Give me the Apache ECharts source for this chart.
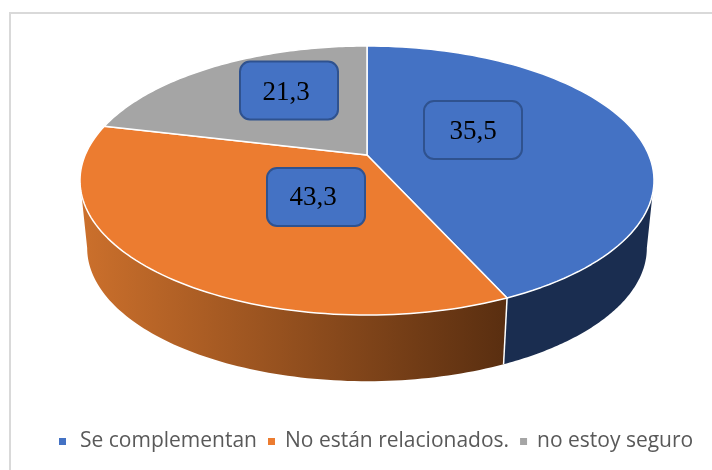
<!DOCTYPE html>
<html>
<head>
<meta charset="utf-8">
<style>html,body{margin:0;padding:0;background:#fff}#c{width:712px;height:470px}</style>
<script src="https://cdn.jsdelivr.net/npm/echarts@6/dist/echarts.min.js"></script>
</head>
<body>
<div id="c"></div>
<script>
const categories = ['Se complementan', 'No están relacionados.', 'no estoy seguro'];
const sliceValues = [43.3, 35.5, 21.3];
const shownLabels = ['35,5', '43,3', '21,3'];

const topColors = ['#4472c4', '#ec7c30', '#a5a5a5'];
const PIE = { apexX: 367, apexY: 155, R: 281.8, S: 129.7, k: 0.1896, cyTop: 180.5, cyBottom: 248, sx: 0.975, sy: 0.99 };
const LABEL_BOX = { w: 98, h: 58, r: 10 };
const LABEL_OFFSETS = [[106, -25], [-51, 42], [-78, -64.5]];
const TEXT_SHIFT = [[0, 1.5], [-3, 1], [-3, 2]];
const LEGEND_TEXT_PAD = [9, 5, 5];

const total = sliceValues.reduce((a, b) => a + b, 0);
const frontStart = Math.acos(-PIE.k), frontEnd = Math.PI * 2 - frontStart;
function project(theta) {
  const v = -Math.cos(theta), w = 1 - PIE.k * v;
  return [PIE.apexX + PIE.R * Math.sin(theta) / w, PIE.apexY + PIE.S * v / w];
}
function lower(p) {
  return [PIE.apexX + (p[0] - PIE.apexX) * PIE.sx, PIE.cyBottom + (p[1] - PIE.cyTop) * PIE.sy];
}
function sample(a, b, n) {
  const pts = [];
  for (let s = 0; s <= n; s++) pts.push(project(a + (b - a) * s / n));
  return pts;
}
function sideFill(i) {
  if (i === 0) return '#1a2d50';
  return new echarts.graphic.LinearGradient(0, 0, 1, 0, [
    { offset: 0, color: '#cc702c' }, { offset: 1, color: '#592e10' }
  ]);
}
function renderSlice(params, api) {
  const i = params.seriesIndex;
  const value = api.value(0);
  let before = 0;
  for (let j = 0; j < i; j++) before += sliceValues[j];
  const a0 = before / total * Math.PI * 2, a1 = (before + value) / total * Math.PI * 2;
  const off = LABEL_OFFSETS[i], shift = TEXT_SHIFT[i];
  const children = [];
  const s0 = Math.max(a0, frontStart), s1 = Math.min(a1, frontEnd);
  if (s1 > s0) {
    const rim = sample(s0, s1, 90), rimLow = rim.map(lower).reverse();
    children.push({ type: 'polygon', z2: 1, shape: { points: rim.concat(rimLow) }, style: { fill: sideFill(i) } });
    if (a1 < frontEnd) {
      children.push({ type: 'line', z2: 2,
        shape: { x1: rim[90][0], y1: rim[90][1], x2: rimLow[0][0], y2: rimLow[0][1] },
        style: { stroke: '#fff', lineWidth: 1.5 } });
    }
  }
  children.push(
    { type: 'polygon', z2: 3, shape: { points: [[PIE.apexX, PIE.apexY]].concat(sample(a0, a1, 90)) },
      style: { fill: topColors[i], stroke: '#fff', lineWidth: 1.5, lineJoin: 'round' } },
    { type: 'rect', z2: 5,
      shape: { x: PIE.apexX + off[0] - LABEL_BOX.w / 2, y: PIE.apexY + off[1] - LABEL_BOX.h / 2, width: LABEL_BOX.w, height: LABEL_BOX.h, r: LABEL_BOX.r },
      style: { fill: '#4472c4', stroke: '#2f528f', lineWidth: 2 } },
    { type: 'text', z2: 6, x: PIE.apexX + off[0] + shift[0], y: PIE.apexY + off[1] + shift[1],
      style: { text: shownLabels[i], fill: '#000', font: '27px "Liberation Serif"', align: 'center', verticalAlign: 'middle' } }
  );
  return { type: 'group', children };
}
const chart = echarts.init(document.getElementById('c'), null, { renderer: 'canvas' });
chart.setOption({
  animation: false,
  backgroundColor: '#fff',
  legend: {
    left: 54, top: 426, width: 655, itemWidth: 7, itemHeight: 7, itemGap: 11,
    icon: 'rect', selectedMode: false,
    data: categories.map((name, i) => ({
      name,
      textStyle: { fontFamily: '"Open Sans"', fontSize: 21, color: '#595959', padding: [0, 0, 0, LEGEND_TEXT_PAD[i]] }
    })),
    textStyle: { fontFamily: '"Open Sans"', fontSize: 21, color: '#595959' }
  },
  graphic: [{ type: 'rect', silent: true, z: -1,
    shape: { x: 10, y: 13, width: 720, height: 480 },
    style: { fill: 'none', stroke: '#d9d9d9', lineWidth: 2 } }],
  series: categories.map((name, i) => ({
    type: 'custom', name, coordinateSystem: 'none', silent: true, clip: false,
    itemStyle: { color: topColors[i] },
    renderItem: renderSlice,
    data: [[sliceValues[i]]]
  }))
});
</script>
</body>
</html>
